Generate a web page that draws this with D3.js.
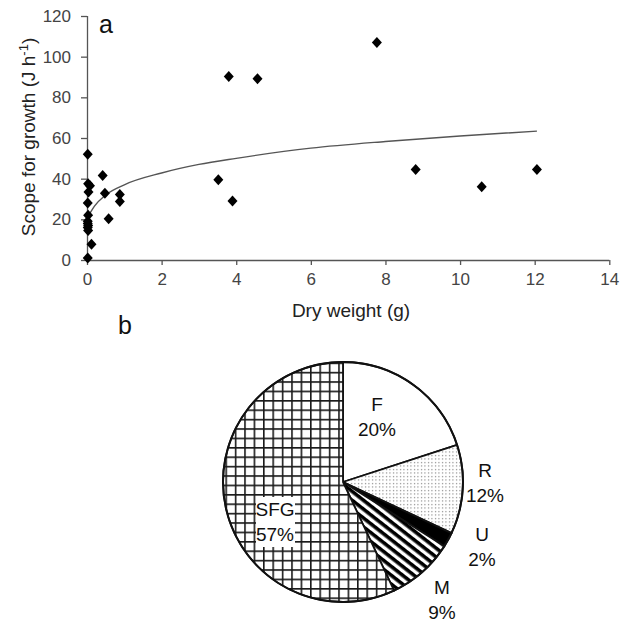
<!DOCTYPE html>
<html><head><meta charset="utf-8">
<script src="https://cdn.jsdelivr.net/npm/d3@7"></script>
<style>body{margin:0;background:#fff;} svg{display:block;font-family:"Liberation Sans",Arial,sans-serif;}</style>
</head><body>
<svg id="c" width="629" height="624"></svg>
<script>
// ---- data (panel a) ----
const dryWeight = [0.02,0.03,0.08,0.04,0.02,0.03,0.02,0.03,0.02,0.03,0.02,0.12,0.02,0.42,0.48,0.58,0.88,0.88,3.52,3.80,3.90,4.57,7.77,8.81,10.58,12.06];
const sfg       = [52,37.5,36.5,33.5,28,22,19,17,16,14.5,18,7.7,1,41.5,32.8,20.3,32.2,28.8,39.5,90.3,29,89.2,107,44.5,36,44.5];
const fitX = [0.08,0.2,0.5,1,2,3,4,6,8,10,12.06];
const fitY = [23,26.5,32,37,42.8,47,50,55,58.3,61,63.4];
const xTicks = [0,2,4,6,8,10,12,14];
const yTicks = [0,20,40,60,80,100,120];
// ---- data (panel b) ----
const pieLabels = ["F","R","U","M","SFG"];
const pieValues = [20,12,2,9,57];

const svg = d3.select("#c");
const defs = svg.append("defs");
// patterns
const grid = defs.append("pattern").attr("id","grid").attr("patternUnits","userSpaceOnUse")
  .attr("width",9.4).attr("height",9.4).attr("x",343).attr("y",482);
grid.append("rect").attr("width",9.4).attr("height",9.4).attr("fill","#fff");
grid.append("path").attr("d","M0 0.8H9.4M0.8 0V9.4").attr("stroke","#1a1a1a").attr("stroke-width",1.6);
const dots = defs.append("pattern").attr("id","dots").attr("patternUnits","userSpaceOnUse").attr("width",3.5).attr("height",3.5);
dots.append("rect").attr("width",3.5).attr("height",3.5).attr("fill","#fff");
dots.append("circle").attr("cx",1.5).attr("cy",1.5).attr("r",0.6).attr("fill","#666");
const stripes = defs.append("pattern").attr("id","stripes").attr("patternUnits","userSpaceOnUse")
  .attr("width",7).attr("height",7).attr("patternTransform","rotate(38)");
stripes.append("rect").attr("width",7).attr("height",7).attr("fill","#fff");
stripes.append("rect").attr("width",7).attr("height",3.6).attr("fill","#000");

// ---- panel a ----
const x = d3.scaleLinear().domain([0,14]).range([87,609.3]);
const y = d3.scaleLinear().domain([0,120]).range([260,16]);

const gx = svg.append("g").attr("transform","translate(0,260)")
  .call(d3.axisBottom(x).tickValues(xTicks).tickSize(5).tickPadding(8).tickFormat(d3.format("d")));
const gy = svg.append("g").attr("transform","translate(87,0)")
  .call(d3.axisLeft(y).tickValues(yTicks).tickSize(6).tickPadding(10).tickFormat(d3.format("d")));
[gx,gy].forEach(g=>{
  g.select(".domain").attr("stroke","#555").attr("stroke-width",1.3);
  g.selectAll(".tick line").attr("stroke","#555").attr("stroke-width",1.3);
  g.selectAll(".tick text").attr("fill","#444").style("font-size","17px").style("font-family","'Liberation Sans',Arial,sans-serif");
});
gy.select(".domain").attr("d","M0.5,16V260.5");
gx.select(".domain").attr("d","M87,0.5H609.3");

svg.append("path").datum(fitX.map((d,i)=>[d,fitY[i]]))
  .attr("d",d3.line().x(d=>x(d[0])).y(d=>y(d[1])).curve(d3.curveMonotoneX))
  .attr("fill","none").attr("stroke","#555").attr("stroke-width",1.4);

svg.append("g").selectAll("path").data(dryWeight.map((d,i)=>[d,sfg[i]])).join("path")
  .attr("transform",d=>`translate(${x(d[0])},${y(d[1])})`)
  .attr("d","M0,-5.5L5,0L0,5.5L-5,0Z").attr("fill","#000");

svg.append("text").attr("x",351).attr("y",317).attr("text-anchor","middle")
  .style("font-size","19px").attr("fill","#222").text("Dry weight (g)");
const yt = svg.append("text").attr("transform","translate(35,137) rotate(-90)").attr("text-anchor","middle")
  .style("font-size","19px").attr("fill","#222");
yt.append("tspan").text("Scope for growth (J h");
yt.append("tspan").attr("dy",-7).style("font-size","13px").text("-1");
yt.append("tspan").attr("dy",7).text(")");

svg.append("text").attr("x",99).attr("y",33).style("font-size","25px").attr("fill","#111").text("a");
svg.append("text").attr("x",118).attr("y",334).style("font-size","25px").attr("fill","#111").text("b");

// ---- panel b ----
const cx = 343, cy = 482, r = 120;
const fills = {F:"#fff",R:"url(#dots)",U:"#000",M:"url(#stripes)",SFG:"url(#grid)"};
const arcs = d3.pie().sort(null)(pieValues);
const arc = d3.arc().innerRadius(0).outerRadius(r);
const pg = svg.append("g").attr("transform",`translate(${cx},${cy})`);
pg.selectAll("path").data(arcs).join("path").attr("d",arc)
  .attr("fill",(d,i)=>fills[pieLabels[i]]).attr("stroke","#111").attr("stroke-width",1.8).attr("stroke-linejoin","round");
pg.append("circle").attr("r",r).attr("fill","none").attr("stroke","#111").attr("stroke-width",2);

// label positions (in chart coordinates)
const labelPos = {F:[377,411],R:[485,477],U:[482,541],M:[442,594],SFG:[275,516]};
pg.append("rect").attr("x",256-cx).attr("y",497-cy).attr("width",39).attr("height",50).attr("fill","#fff");
pieLabels.forEach((lab,i)=>{
  const [lx,ly] = labelPos[lab];
  const t = svg.append("text").attr("text-anchor","middle").style("font-size","19px").attr("fill","#111");
  t.append("tspan").attr("x",lx).attr("y",ly).text(lab);
  t.append("tspan").attr("x",lx).attr("y",ly+25).text(pieValues[i]+"%");
});
</script>
</body></html>
